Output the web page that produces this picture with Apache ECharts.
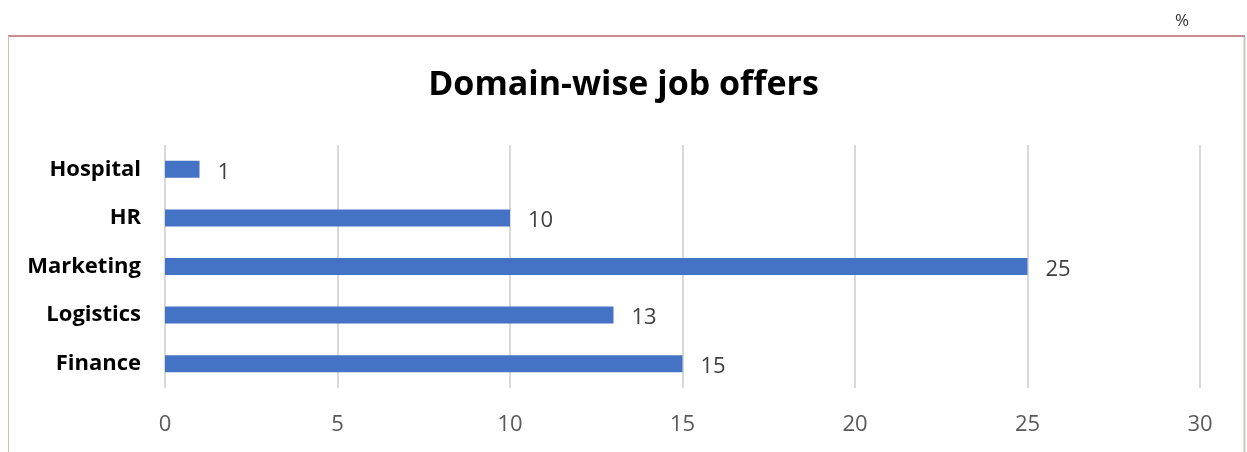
<!DOCTYPE html>
<html>
<head>
<meta charset="utf-8">
<script src="https://cdn.jsdelivr.net/npm/echarts@6/dist/echarts.min.js"></script>
<style>
html,body{margin:0;padding:0;background:#fff;}
#chart{width:1247px;height:452px;}
</style>
</head>
<body>
<div id="chart"></div>
<script>
const categories = ['Finance', 'Logistics', 'Marketing', 'HR', 'Hospital'];
const values = [15, 13, 25, 10, 1];
const xTicks = [0, 5, 10, 15, 20, 25, 30];

const chart = echarts.init(document.getElementById('chart'));
chart.setOption({
  backgroundColor: '#ffffff',
  animation: false,
  title: {
    text: 'Domain-wise job offers',
    left: 'center',
    top: 63,
    textStyle: { fontFamily: 'Open Sans', fontWeight: 'bold', fontSize: 34, color: '#000' }
  },
  graphic: [
    { type: 'line', shape: { x1: 8, y1: 36, x2: 1245, y2: 36 }, style: { stroke: '#b9646c', lineWidth: 1.5 } },
    { type: 'line', shape: { x1: 8.5, y1: 36, x2: 8.5, y2: 452 }, style: { stroke: '#d9b8b8', lineWidth: 1 } },
    { type: 'line', shape: { x1: 1244.5, y1: 37, x2: 1244.5, y2: 452 }, style: { stroke: '#c8c8c0', lineWidth: 2 } },
    { type: 'text', left: 1175, top: 13, style: { text: '%', font: '17px "Open Sans"', fill: '#333' } }
  ],
  grid: { left: 165, right: 47, top: 145, bottom: 64, containLabel: false },
  xAxis: {
    type: 'value',
    min: 0, max: 30, interval: 5,
    axisLine: { show: false },
    axisTick: { show: false },
    splitLine: { show: true, lineStyle: { color: '#d9d9d9', width: 2 } },
    axisLabel: {
      margin: 26,
      fontFamily: 'Open Sans', fontSize: 22, color: '#595959',
      formatter: v => xTicks.includes(v) ? String(v) : ''
    }
  },
  yAxis: {
    type: 'category',
    data: categories,
    axisLine: { show: false },
    axisTick: { show: false },
    axisLabel: { margin: 24, padding: [4, 0, 0, 0], fontFamily: 'Open Sans', fontWeight: 'bold', fontSize: 22, color: '#000' }
  },
  series: [{
    type: 'bar',
    data: values,
    barWidth: 17,
    itemStyle: { color: '#4472c4' },
    label: {
      show: true, position: 'right', distance: 18, offset: [0, 3],
      fontFamily: 'Open Sans', fontSize: 22, color: '#404040'
    }
  }]
});
</script>
</body>
</html>
